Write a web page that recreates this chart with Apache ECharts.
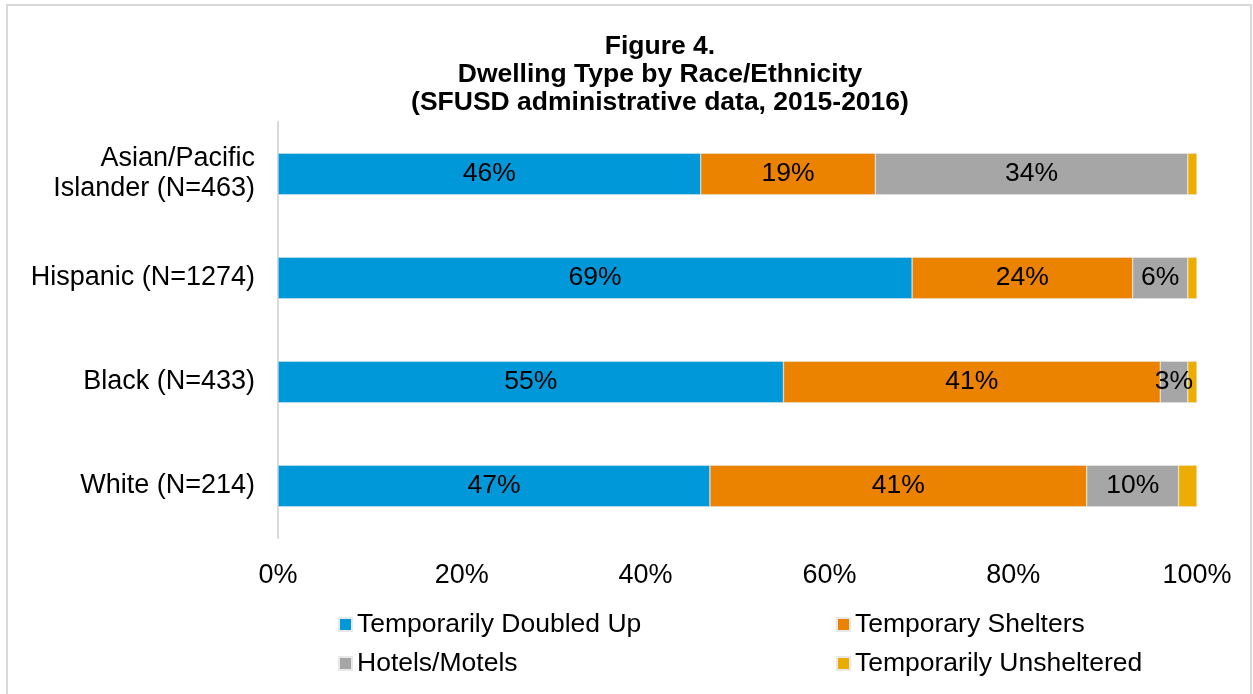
<!DOCTYPE html>
<html>
<head>
<meta charset="utf-8">
<script src="https://cdn.jsdelivr.net/npm/echarts@6/dist/echarts.min.js"></script>
<style>
html,body{margin:0;padding:0;background:#fff;}
#chart{width:1253px;height:694px;}
</style>
</head>
<body>
<div id="chart"></div>
<script>
// categories top to bottom
var groups = ['Asian/Pacific\nIslander (N=463)', 'Hispanic (N=1274)', 'Black (N=433)', 'White (N=214)'];
var seriesNames = ['Temporarily Doubled Up', 'Temporary Shelters', 'Hotels/Motels', 'Temporarily Unsheltered'];
var doubledUp = [46, 69, 55, 47];
var shelters = [19, 24, 41, 41];
var hotels = [34, 6, 3, 10];
var unsheltered = [1, 1, 1, 2];
var colors = ['#0098d8', '#eb8300', '#a6a6a6', '#ecad00'];
var xTicks = [0, 20, 40, 60, 80, 100];

var font = 'Liberation Sans, Arial, sans-serif';

function makeSeries(name, data, color, showLabel){
	return {
		name: name,
		type: 'bar',
		stack: 'total',
		barWidth: '40%',
		data: data,
		itemStyle: { color: color, borderColor: '#e8e8e8', borderWidth: 0.5 },
		label: {
			show: showLabel,
			position: 'inside',
			color: '#000',
			fontSize: 26.5,
			fontFamily: font,
			formatter: function(p){ return Math.round(p.value) + '%'; }
		}
	};
}

var legendStyle = { fontFamily: font, fontSize: 26.5, color: '#000', padding: [0, 0, 0, 0] };

var option = {
	animation: false,
	backgroundColor: '#fff',
	title: {
		text: 'Figure 4.\nDwelling Type by Race/Ethnicity\n(SFUSD administrative data, 2015-2016)',
		left: 655,
		textAlign: 'center',
		top: 28,
		textStyle: { fontFamily: font, fontWeight: 'bold', fontSize: 26.5, lineHeight: 28, color: '#000' }
	},
	legend: [
		{
			data: [seriesNames[0], seriesNames[2]],
			orient: 'vertical',
			left: 333, top: 606,
			itemWidth: 13, itemHeight: 13, itemGap: 12,
			icon: 'rect',
			textStyle: legendStyle
		},
		{
			data: [seriesNames[1], seriesNames[3]],
			orient: 'vertical',
			left: 831, top: 606,
			itemWidth: 13, itemHeight: 13, itemGap: 12,
			icon: 'rect',
			textStyle: legendStyle
		}
	],
	grid: { left: 278, right: 56, top: 122, bottom: 156, containLabel: false },
	xAxis: {
		type: 'value',
		min: xTicks[0], max: xTicks[xTicks.length - 1], interval: 20,
		axisLine: { show: false },
		axisTick: { show: false },
		splitLine: { show: false },
		axisLabel: { formatter: '{value}%', fontFamily: font, fontSize: 27, color: '#000', margin: 24 }
	},
	yAxis: {
		type: 'category',
		inverse: true,
		data: groups,
		axisLine: { show: true, lineStyle: { color: '#d9d9d9', width: 2 } },
		axisTick: { show: false },
		axisLabel: { fontFamily: font, fontSize: 27, color: '#000', margin: 23, lineHeight: 30, align: 'right' }
	},
	graphic: [
		{ type: 'rect', shape: { x: 7, y: 5, width: 1244, height: 720 }, style: { fill: 'none', stroke: '#d9d9d9', lineWidth: 2 }, silent: true }
	],
	series: [
		makeSeries(seriesNames[0], doubledUp, colors[0], true),
		makeSeries(seriesNames[1], shelters, colors[1], true),
		makeSeries(seriesNames[2], hotels, colors[2], true),
		makeSeries(seriesNames[3], unsheltered, colors[3], false)
	]
};

var myChart = echarts.init(document.getElementById('chart'));
myChart.setOption(option);
</script>
</body>
</html>
